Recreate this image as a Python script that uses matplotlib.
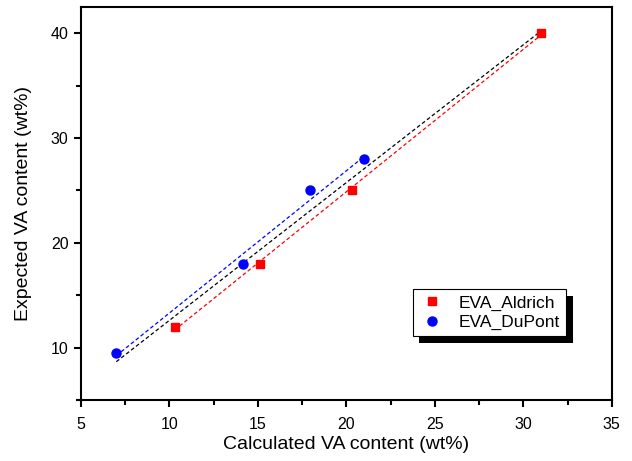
import numpy as np
import matplotlib
matplotlib.use("Agg")
import matplotlib.pyplot as plt
import matplotlib.patheffects as pe
from matplotlib.ticker import MultipleLocator

plt.rcParams['font.family'] = ['Liberation Sans', 'DejaVu Sans']

# data
aldrich_x = [10.3, 15.1, 20.3, 31.0]
aldrich_y = [12, 18, 25, 40]
dupont_x = [7.0, 14.15, 17.95, 21.0]
dupont_y = [9.5, 18, 25, 28]

fig = plt.figure(figsize=(6.32, 4.61), dpi=100)
ax = fig.add_axes([0.128, 0.132, 0.840, 0.853])

# linear fits: each series and all points together
all_x = np.array(aldrich_x + dupont_x)
all_y = np.array(aldrich_y + dupont_y)
ka = np.polyfit(aldrich_x, aldrich_y, 1)
kd = np.polyfit(dupont_x, dupont_y, 1)
kall = np.polyfit(all_x, all_y, 1)

xa = np.array([min(aldrich_x), max(aldrich_x)])
xd = np.array([min(dupont_x), max(dupont_x)])
xall = np.array([all_x.min(), all_x.max()])
dash = dict(lw=0.9, ls=(0, (3, 2)))
ax.plot(xall, np.polyval(kall, xall), color='black', **dash)
ax.plot(xa, np.polyval(ka, xa), color='red', **dash)
ax.plot(xd, np.polyval(kd, xd), color='blue', **dash)

ax.plot(aldrich_x, aldrich_y, 's', color='red', ms=6, label='EVA_Aldrich')
ax.plot(dupont_x, dupont_y, 'o', color='blue', ms=6.5, label='EVA_DuPont')

ax.set_xlim(5, 35)
ax.set_ylim(5, 42.5)
ax.xaxis.set_major_locator(MultipleLocator(5))
ax.xaxis.set_minor_locator(MultipleLocator(2.5))
ax.yaxis.set_major_locator(MultipleLocator(10))
ax.yaxis.set_minor_locator(MultipleLocator(5))
ax.tick_params(which='both', direction='out', width=1.5, labelsize=11.5)
ax.tick_params(axis='x', pad=7)
ax.tick_params(axis='y', pad=4)
ax.tick_params(which='major', length=5)
ax.tick_params(which='minor', length=3.5)
for s in ax.spines.values():
    s.set_linewidth(1.5)

ax.set_xlabel('Calculated VA content (wt%)', fontsize=14, labelpad=3)
ax.set_ylabel('Expected VA content (wt%)', fontsize=14, labelpad=13)

leg = ax.legend(loc='center', bbox_to_anchor=(0.77, 0.222), fontsize=12.5,
                frameon=True, fancybox=False, edgecolor='black',
                facecolor='white', framealpha=1,
                handletextpad=0.8, borderpad=0.35, handlelength=1.5,
                labelspacing=0.25)
leg.get_frame().set_linewidth(0.8)
leg.legendPatch.set_path_effects([
    pe.SimplePatchShadow(offset=(4.5, -4.5), shadow_rgbFace='black', alpha=1),
    pe.Normal()])

fig.savefig('out.png', dpi=100)
